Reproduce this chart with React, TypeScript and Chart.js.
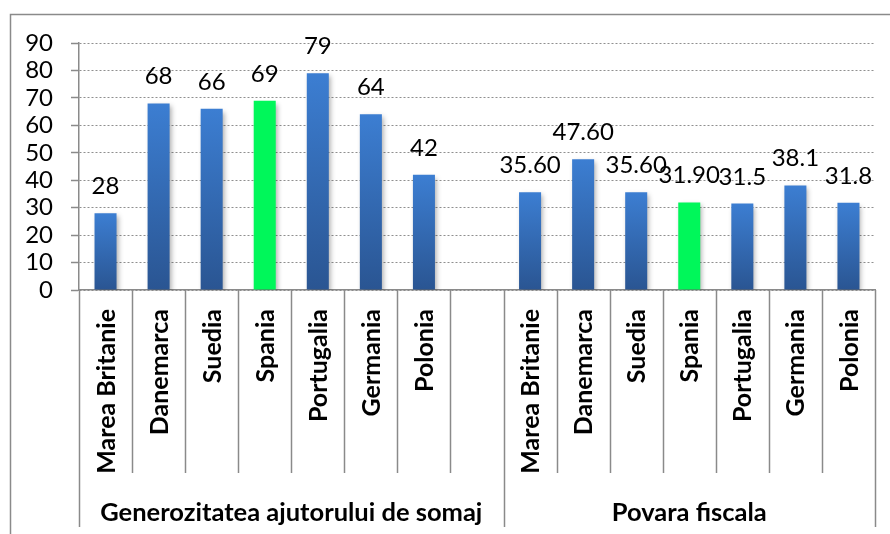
import React, { useEffect, useRef } from 'react';
import { Chart, registerables } from 'chart.js';

Chart.register(...registerables);

// ---- data ----
const countries = ['Marea Britanie', 'Danemarca', 'Suedia', 'Spania', 'Portugalia', 'Germania', 'Polonia'];
const groupNames = ['Generozitatea ajutorului de somaj', 'Povara fiscala'];
const generozitateValues = [28, 68, 66, 69, 79, 64, 42];
const generozitateLabels = ['28', '68', '66', '69', '79', '64', '42'];
const povaraValues = [35.6, 47.6, 35.6, 31.9, 31.5, 38.1, 31.8];
const povaraLabels = ['35.60', '47.60', '35.60', '31.90', '31.5', '38.1', '31.8'];
const yMin = 0;
const yMax = 90;
const yStep = 10;
const highlightCountry = 'Spania';

// slots: group 1 (7 countries + one empty slot), group 2 (7 countries)
const slotLabels = [...countries, '', ...countries];
const slotValues: (number | null)[] = [...generozitateValues, null, ...povaraValues];
const slotDataLabels = [...generozitateLabels, '', ...povaraLabels];
const groupSpans = [
  { name: groupNames[0], from: 0, to: countries.length + 1 },
  { name: groupNames[1], from: countries.length + 1, to: slotLabels.length },
];

const FONT = 'Lato';
const AXIS = '#8a8a8a';
const GRID = '#8f8f8f';
const BLUE_TOP = '#3C7ED2';
const BLUE_BOTTOM = '#2A5592';
const GREEN = '#00F75A';

const W = 890;
const H = 534;

export default function App() {
  const ref = useRef<HTMLCanvasElement | null>(null);

  useEffect(() => {
    const canvas = ref.current;
    if (!canvas) return;

    const decor = {
      id: 'decor',
      beforeDatasetsDraw(chart: any) {
        const ctx = chart.ctx;
        ctx.save();
        ctx.shadowColor = 'rgba(0,0,0,0.32)';
        ctx.shadowBlur = 5;
        ctx.shadowOffsetX = 2;
        ctx.shadowOffsetY = 3;
      },
      afterDatasetsDraw(chart: any) {
        chart.ctx.restore();
      },
      afterDraw(chart: any) {
        const ctx = chart.ctx;
        const xs = chart.scales.x;
        const area = chart.chartArea;
        ctx.save();
        // outer frame (left + top)
        ctx.strokeStyle = AXIS;
        ctx.lineWidth = 1.5;
        ctx.beginPath();
        ctx.moveTo(10.5, H);
        ctx.lineTo(10.5, 14.5);
        ctx.lineTo(W, 14.5);
        ctx.stroke();

        const c0 = xs.getPixelForValue(0);
        const slot = xs.getPixelForValue(1) - c0;
        const boundary = (b: number) => c0 + (b - 0.5) * slot;
        const groupEdges = new Set<number>();
        groupSpans.forEach((g) => { groupEdges.add(g.from); groupEdges.add(g.to); });

        // separators
        ctx.lineWidth = 1.5;
        for (let b = 0; b <= slotLabels.length; b++) {
          const x = Math.round(boundary(b)) + 0.5;
          ctx.beginPath();
          ctx.moveTo(x, area.bottom);
          ctx.lineTo(x, groupEdges.has(b) ? 527 : 473);
          ctx.stroke();
        }

        // category labels (rotated)
        ctx.fillStyle = '#000';
        ctx.font = `bold 25px ${FONT}`;
        ctx.textAlign = 'right';
        ctx.textBaseline = 'middle';
        slotLabels.forEach((lab, i) => {
          if (!lab) return;
          const x = xs.getPixelForValue(i);
          ctx.save();
          ctx.translate(x + 1, area.bottom + 19);
          ctx.rotate(-Math.PI / 2);
          ctx.fillText(lab, 0, 0);
          ctx.restore();
        });

        // group labels
        ctx.font = `bold 25.5px ${FONT}`;
        ctx.textAlign = 'center';
        ctx.textBaseline = 'alphabetic';
        groupSpans.forEach((g) => {
          const x = (boundary(g.from) + boundary(g.to)) / 2;
          ctx.fillText(g.name, x, 521);
        });

        // data labels
        ctx.font = `24px ${FONT}`;
        const meta = chart.getDatasetMeta(0);
        meta.data.forEach((el: any, i: number) => {
          const lab = slotDataLabels[i];
          if (!lab || slotValues[i] == null) return;
          ctx.fillText(lab, el.x, el.y - 19);
        });
        ctx.restore();
      },
    };

    const chart = new Chart(canvas, {
      type: 'bar',
      data: {
        labels: slotLabels,
        datasets: [
          {
            data: slotValues,
            borderWidth: 0,
            barPercentage: 0.415,
            categoryPercentage: 1,
            backgroundColor: (c: any) => {
              const i = c.dataIndex;
              if (slotLabels[i] === highlightCountry) return GREEN;
              const ch = c.chart;
              const ys = ch.scales && ch.scales.y;
              const v = slotValues[i];
              if (!ys || !ch.chartArea || v == null) return BLUE_TOP;
              const top = ys.getPixelForValue(v);
              const bottom = ys.getPixelForValue(0);
              const g = ch.ctx.createLinearGradient(0, top, 0, bottom);
              g.addColorStop(0, BLUE_TOP);
              g.addColorStop(1, BLUE_BOTTOM);
              return g;
            },
          },
        ],
      },
      options: {
        animation: false,
        responsive: false,
        devicePixelRatio: 1,
        layout: { padding: { left: 10, right: 15, top: 43, bottom: 0 } },
        plugins: { legend: { display: false }, tooltip: { enabled: false } },
        scales: {
          x: {
            ticks: { display: false },
            grid: { display: false },
            border: { display: true, color: AXIS, width: 1.5 },
            afterFit: (s: any) => { s.height = 244; },
          },
          y: {
            min: yMin,
            max: yMax,
            ticks: { stepSize: yStep, autoSkip: false, font: { family: FONT, size: 24 }, color: '#000', padding: 18 },
            grid: { color: GRID, lineWidth: 1, drawTicks: true, tickLength: 8, tickColor: AXIS, tickWidth: 1.5 },
            border: { display: true, color: AXIS, width: 1.5, dash: [2, 2] },
            afterFit: (s: any) => { s.width = 69; },
          },
        },
      },
      plugins: [decor],
    } as any);

    return () => chart.destroy();
  }, []);

  return (
    <div style={{ position: 'fixed', left: 0, top: 0, width: W, height: H, background: '#fff' }}>
      <canvas ref={ref} width={W} height={H} style={{ display: 'block', width: W, height: H }} />
    </div>
  );
}
